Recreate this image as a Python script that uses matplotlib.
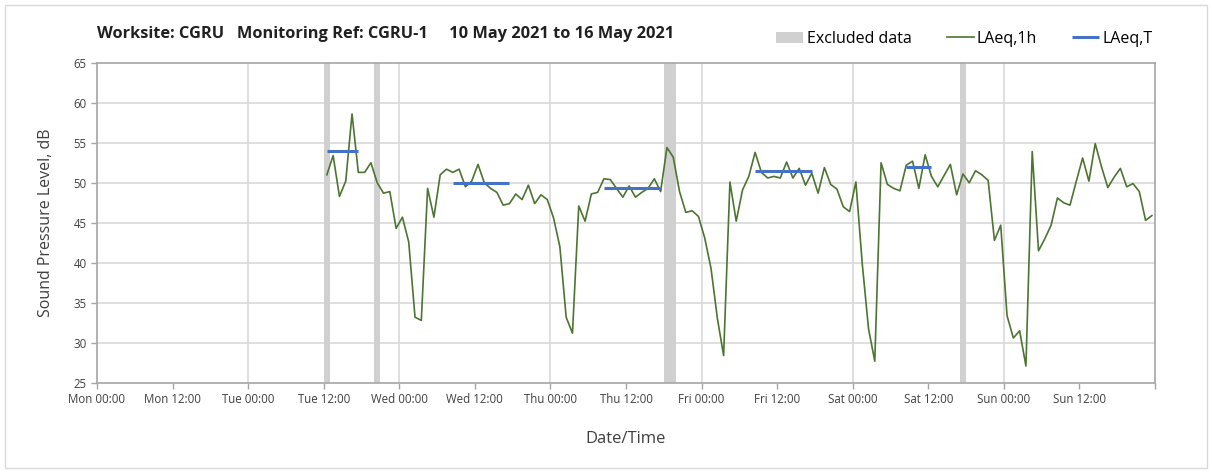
import numpy as np
import matplotlib
matplotlib.use("Agg")
import matplotlib.pyplot as plt
from matplotlib.patches import Rectangle

plt.rcParams['font.family'] = ['Open Sans', 'DejaVu Sans']

# hourly LAeq,1h values, hours counted from Mon 00:00 (mid-hour stamps)
first_hour = 36.5
laeq_1h = [
    51.0, 53.4, 48.3, 50.2, 58.6, 51.3, 51.3, 52.5, 50.0, 48.7, 48.9, 44.3,
    45.7, 42.6, 33.2, 32.8, 49.3, 45.7, 51.0, 51.7, 51.3, 51.7, 49.5, 50.2,
    52.3, 50.0, 49.3, 48.8, 47.2, 47.4, 48.6, 47.9, 49.7, 47.4, 48.5, 47.9,
    45.6, 42.0, 33.2, 31.2, 47.1, 45.2, 48.6, 48.8, 50.5, 50.4, 49.3, 48.2,
    49.6, 48.2, 48.8, 49.3, 50.5, 48.9, 54.4, 53.2, 48.9, 46.3, 46.5, 45.8,
    43.1, 39.3, 33.1, 28.4, 50.1, 45.2, 49.1, 50.8, 53.8, 51.3, 50.6, 50.8,
    50.6, 52.6, 50.6, 51.8, 49.7, 51.2, 48.7, 51.9, 49.8, 49.2, 47.0, 46.4,
    50.1, 40.0, 31.8, 27.7, 52.5, 49.8, 49.3, 49.0, 52.2, 52.7, 49.3, 53.5,
    50.8, 49.5, 50.9, 52.3, 48.5, 51.1, 50.0, 51.5, 51.0, 50.3, 42.8, 44.7,
    33.4, 30.6, 31.5, 27.1, 53.9, 41.5, 43.0, 44.7, 48.1, 47.5, 47.2, 50.2,
    53.1, 50.2, 54.9, 52.0, 49.4, 50.7, 51.8, 49.5, 49.9, 48.9, 45.3, 45.9,
]

# daytime LAeq,T periods
period_start = [36.5, 56.5, 80.5, 104.5, 128.5]
period_end = [41.5, 65.5, 89.5, 113.5, 132.5]
period_level = [54.0, 50.0, 49.4, 51.5, 52.0]

# excluded hours (mid-hour stamps)
excluded_hours = [36.5, 44.5, 90.5, 91.5, 137.5]

tick_labels = ["Mon 00:00", "Mon 12:00", "Tue 00:00", "Tue 12:00",
               "Wed 00:00", "Wed 12:00", "Thu 00:00", "Thu 12:00",
               "Fri 00:00", "Fri 12:00", "Sat 00:00", "Sat 12:00",
               "Sun 00:00", "Sun 12:00", ""]

green = "#4b7530"
blue = "#4472c4"
band = "#d0d0d0"
grid = "#d9d9d9"
spine = "#a6a6a6"

fig = plt.figure(figsize=(12.12, 4.72), dpi=100)
ax = fig.add_axes([0.080, 0.189, 0.873, 0.678])

hours = first_hour + np.arange(len(laeq_1h))

ax.bar(excluded_hours, 40, width=1.0, bottom=25, color=band,
       label="Excluded data", zorder=1)
ax.plot(hours, laeq_1h, color=green, lw=1.2, label="LAeq,1h", zorder=3)
ax.hlines(period_level, period_start, period_end, color=blue, lw=2.2,
          label="LAeq,T", zorder=4)

ax.set_xlim(0, 168)
ax.set_ylim(25, 65)
ax.set_xticks(np.arange(0, 169, 12))
ax.set_xticklabels(tick_labels)
ax.set_yticks(np.arange(25, 66, 5))

for h in range(24, 168, 24):
    ax.axvline(h, color=grid, lw=1.2, zorder=0)
for v in range(30, 65, 5):
    ax.axhline(v, color=grid, lw=1.2, zorder=0)

for s in ax.spines.values():
    s.set_color(spine)
    s.set_linewidth(1.2)
ax.tick_params(axis="both", colors=spine, labelcolor="#404040",
               labelsize=8.3, length=4, width=1)

ax.set_ylabel("Sound Pressure Level, dB", fontsize=11.5, color="#404040",
              labelpad=14)
ax.set_xlabel("Date/Time", fontsize=12, color="#404040", labelpad=18)

fig.text(0.080, 0.912, "Worksite: CGRU   Monitoring Ref: CGRU-1     10 May 2021 to 16 May 2021",
         fontsize=11.8, fontweight="bold", color="#202020", va="bottom")

handles, labels = ax.get_legend_handles_labels()
order = [labels.index(n) for n in ["Excluded data", "LAeq,1h", "LAeq,T"]]
fig.legend([handles[i] for i in order], [labels[i] for i in order],
           loc="upper right", bbox_to_anchor=(0.963, 0.965), ncol=3,
           frameon=False, fontsize=11.5, handlelength=1.7, handletextpad=0.2,
           columnspacing=2.2)

fig.patches.append(Rectangle((0.004, 0.008), 0.992, 0.982,
                             transform=fig.transFigure, fill=False,
                             edgecolor="#d9d9d9", lw=1))

fig.savefig("out.png", dpi=100)
